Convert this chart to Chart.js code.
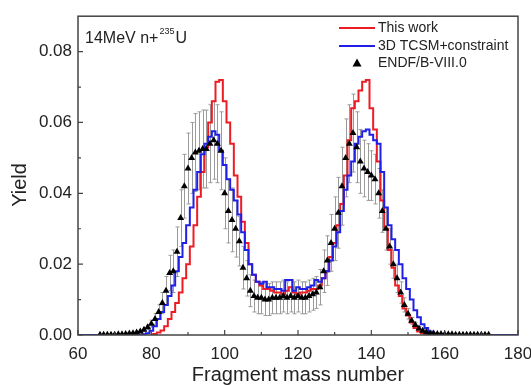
<!DOCTYPE html>
<html>
<head>
<meta charset="utf-8">
<script src="https://cdn.jsdelivr.net/npm/chart.js@4.4.0/dist/chart.umd.min.js"></script>
<style>
  html, body { margin: 0; padding: 0; background: #fff; }
</style>
</head>
<body>
<canvas id="yieldChart" width="531" height="385"></canvas>
<script>
// mass numbers 60..180, every series lines up with this list (null = no value)
const massNumbers = [
  60, 61, 62, 63, 64, 65, 66, 67, 68, 69,
  70, 71, 72, 73, 74, 75, 76, 77, 78, 79,
  80, 81, 82, 83, 84, 85, 86, 87, 88, 89,
  90, 91, 92, 93, 94, 95, 96, 97, 98, 99,
  100, 101, 102, 103, 104, 105, 106, 107, 108, 109,
  110, 111, 112, 113, 114, 115, 116, 117, 118, 119,
  120, 121, 122, 123, 124, 125, 126, 127, 128, 129,
  130, 131, 132, 133, 134, 135, 136, 137, 138, 139,
  140, 141, 142, 143, 144, 145, 146, 147, 148, 149,
  150, 151, 152, 153, 154, 155, 156, 157, 158, 159,
  160, 161, 162, 163, 164, 165, 166, 167, 168, 169,
  170, 171, 172, 173, 174, 175, 176, 177, 178, 179,
  180
];

// "This work" (red)
const thisWork = [
  null, null, null, null, null, null, null, null, null, null,
  null, null, null, null, null, null, null, null, null, null,
  0, 0.0003, 0.0007, 0.0013, 0.0025, 0.0045, 0.0065, 0.009, 0.012, 0.016,
  0.020, 0.025, 0.031, 0.039, 0.046, 0.053, 0.060, 0.066, 0.0715, 0.072,
  0.066, 0.060, 0.054, 0.045, 0.039, 0.032, 0.026, 0.020, 0.017, 0.015,
  0.014, 0.013, 0.013, 0.0125, 0.012, 0.012, 0.0115, 0.0125, 0.0135, 0.012,
  0.0115, 0.012, 0.012, 0.0125, 0.013, 0.013, 0.014, 0.016, 0.018, 0.022,
  0.026, 0.031, 0.037, 0.045, 0.055, 0.064, 0.066, 0.069, 0.0715, 0.072,
  0.064, 0.058, 0.049, 0.038, 0.030, 0.024, 0.019, 0.014, 0.011, 0.0075,
  0.0055, 0.0035, 0.002, 0.001, 0.0005, 0.0002, 0, null, null, null,
  null, null, null, null, null, null, null, null, null, null,
  null, null, null, null, null, null, null, null, null, null,
  null
];

// "3D TCSM+constraint" (blue)
const tcsm = [
  0, 0, 0, 0, 0, 0, 0, 0, 0, 0,
  0, 0, 0, 0, 0, 0, 0, 0, 0.0002, 0.0005,
  0.0012, 0.0025, 0.0045, 0.0065, 0.0085, 0.011, 0.014, 0.018, 0.022, 0.026,
  0.031, 0.036, 0.041, 0.046, 0.051, 0.054, 0.056, 0.0575, 0.0565, 0.052,
  0.048, 0.044, 0.041, 0.038, 0.034, 0.029, 0.024, 0.020, 0.017, 0.015,
  0.0145, 0.015, 0.0135, 0.0135, 0.013, 0.013, 0.0125, 0.0155, 0.0155, 0.0125,
  0.0135, 0.013, 0.013, 0.0135, 0.014, 0.0155, 0.015, 0.016, 0.018, 0.021,
  0.025, 0.029, 0.035, 0.041, 0.045, 0.049, 0.054, 0.056, 0.0575, 0.058,
  0.0565, 0.055, 0.054, 0.046, 0.036, 0.031, 0.027, 0.024, 0.020, 0.016,
  0.013, 0.010, 0.007, 0.005, 0.003, 0.002, 0.001, 0, 0, 0,
  0, 0, 0, 0, 0, 0, 0, 0, 0, 0,
  0, 0, 0, 0, 0, 0, 0, 0, 0, 0,
  0
];

// ENDF/B-VIII.0 (triangles) and its uncertainties
const endf = [
  null, null, null, null, null, null, 0.0001, 0.0001, 0.0001, 0.0001,
  0.0001, 0.0002, 0.0002, 0.0003, 0.0004, 0.0005, 0.0007, 0.001, 0.0015, 0.0022,
  0.0032, 0.0045, 0.0065, 0.009, 0.0125, 0.0175, 0.018, 0.0235, 0.033, 0.042,
  0.047, 0.050, 0.0515, 0.052, 0.0525, 0.0525, 0.054, 0.055, 0.054, 0.052,
  0.040, 0.035, 0.0325, 0.030, 0.0265, 0.019, 0.016, 0.0125, 0.011, 0.0105,
  0.0105, 0.010, 0.010, 0.0105, 0.0105, 0.0105, 0.011, 0.0105, 0.011, 0.0105,
  0.011, 0.0105, 0.0105, 0.011, 0.0115, 0.012, 0.0135, 0.018, 0.021, 0.026,
  0.030, 0.0345, 0.042, 0.050, 0.054, 0.057, 0.053, 0.049, 0.047, 0.046,
  0.045, 0.044, 0.040, 0.035, 0.030, 0.025, 0.020, 0.016, 0.012, 0.0085,
  0.006, 0.004, 0.0028, 0.0018, 0.0012, 0.0008, 0.0005, 0.0004, 0.0003, 0.0003,
  0.0002, 0.0002, 0.0002, 0.0001, 0.0001, 0.0001, 0.0001, 0.0001, 0.0001, 0.0001,
  0.0001, 0.0001, 0.0001, null, null, null, null, null, null, null,
  null
];
const endfErr = [
  null, null, null, null, null, null, 0.0001, 0.0001, 0.0001, 0.0001,
  0.0001, 0.0001, 0.0001, 0.0001, 0.0002, 0.0002, 0.0003, 0.0003, 0.0004, 0.0006,
  0.001, 0.0015, 0.002, 0.003, 0.004, 0.005, 0.006, 0.007, 0.008, 0.009,
  0.010, 0.010, 0.011, 0.011, 0.011, 0.011, 0.011, 0.011, 0.011, 0.011,
  0.010, 0.009, 0.009, 0.008, 0.007, 0.006, 0.005, 0.0045, 0.0045, 0.0045,
  0.0045, 0.0045, 0.0045, 0.0045, 0.0045, 0.0045, 0.0045, 0.0045, 0.0045, 0.0045,
  0.0045, 0.0045, 0.0045, 0.0045, 0.0045, 0.0045, 0.005, 0.006, 0.007, 0.008,
  0.009, 0.010, 0.011, 0.011, 0.011, 0.011, 0.010, 0.009, 0.008, 0.008,
  0.007, 0.007, 0.007, 0.006, 0.006, 0.005, 0.004, 0.004, 0.003, 0.002,
  0.0015, 0.001, 0.0008, 0.0006, 0.0004, 0.0003, 0.0002, 0.0002, 0.0001, 0.0001,
  0.0001, 0.0001, 0.0001, 0.0001, 0.0001, 0.0001, 0.0001, 0.0001, 0.0001, 0.0001,
  0.0001, 0.0001, 0.0001, null, null, null, null, null, null, null,
  null
];

const xTicks = [60, 80, 100, 120, 140, 160, 180];
const xMinorTicks = [70, 90, 110, 130, 150, 170];
const yTicks = [0, 0.02, 0.04, 0.06, 0.08];
const yMinorTicks = [0.01, 0.03, 0.05, 0.07];
const seriesNames = ['This work', '3D TCSM+constraint', 'ENDF/B-VIII.0'];

const FONT = 'Arial, "Liberation Sans", Helvetica, sans-serif';
const RED = '#ec1c24';
const BLUE = '#1f1fe8';

function toPoints(values) {
  return massNumbers
    .map((a, i) => ({ x: a, y: values[i] }))
    .filter(p => p.y !== null);
}

const extras = {
  id: 'extras',
  beforeDatasetsDraw(chart) {
    // grey error bars under the curves
    const { ctx, chartArea, scales: { x, y } } = chart;
    ctx.save();
    ctx.beginPath();
    ctx.rect(chartArea.left, chartArea.top, chartArea.right - chartArea.left, chartArea.bottom - chartArea.top);
    ctx.clip();
    ctx.strokeStyle = '#9a9a9a';
    ctx.lineWidth = 1;
    ctx.beginPath();
    massNumbers.forEach((a, i) => {
      if (endf[i] === null) return;
      const px = Math.round(x.getPixelForValue(a)) + 0.5;
      const top = y.getPixelForValue(endf[i] + endfErr[i]);
      const bot = y.getPixelForValue(endf[i] - endfErr[i]);
      ctx.moveTo(px, top); ctx.lineTo(px, bot);
      ctx.moveTo(px - 2, top); ctx.lineTo(px + 2, top);
      ctx.moveTo(px - 2, bot); ctx.lineTo(px + 2, bot);
    });
    ctx.stroke();
    ctx.restore();
  },
  afterDraw(chart) {
    const { ctx, chartArea: a, scales: { x, y } } = chart;
    ctx.save();
    // frame
    ctx.strokeStyle = '#444';
    ctx.lineWidth = 1.5;
    ctx.strokeRect(a.left, a.top, a.right - a.left, a.bottom - a.top);
    // inward ticks
    ctx.lineWidth = 1.2;
    ctx.beginPath();
    xTicks.forEach(v => { const p = x.getPixelForValue(v); ctx.moveTo(p, a.bottom); ctx.lineTo(p, a.bottom - 5); });
    xMinorTicks.forEach(v => { const p = x.getPixelForValue(v); ctx.moveTo(p, a.bottom); ctx.lineTo(p, a.bottom - 3); });
    yTicks.forEach(v => { const p = y.getPixelForValue(v); ctx.moveTo(a.left, p); ctx.lineTo(a.left + 5, p); });
    yMinorTicks.forEach(v => { const p = y.getPixelForValue(v); ctx.moveTo(a.left, p); ctx.lineTo(a.left + 3, p); });
    ctx.stroke();

    // y axis title, sits a bit below the middle like the original
    ctx.fillStyle = '#222';
    ctx.font = '20px ' + FONT;
    ctx.textAlign = 'center';
    ctx.textBaseline = 'middle';
    ctx.translate(20, 185);
    ctx.rotate(-Math.PI / 2);
    ctx.fillText('Yield', 0, 0);
    ctx.setTransform(1, 0, 0, 1, 0, 0);
    ctx.textAlign = 'left';

    // legend
    const lx = 339, tx = 378, rows = [28, 46, 63];
    ctx.lineWidth = 2.2;
    ctx.strokeStyle = RED;
    ctx.beginPath(); ctx.moveTo(lx, rows[0]); ctx.lineTo(lx + 36, rows[0]); ctx.stroke();
    ctx.strokeStyle = BLUE;
    ctx.beginPath(); ctx.moveTo(lx, rows[1]); ctx.lineTo(lx + 36, rows[1]); ctx.stroke();
    ctx.fillStyle = '#000';
    ctx.beginPath();
    ctx.moveTo(lx + 18, rows[2] - 4.5);
    ctx.lineTo(lx + 22.5, rows[2] + 3.5);
    ctx.lineTo(lx + 13.5, rows[2] + 3.5);
    ctx.closePath(); ctx.fill();
    ctx.fillStyle = '#222';
    ctx.font = '14px ' + FONT;
    seriesNames.forEach((s, i) => ctx.fillText(s, tx, rows[i]));

    // reaction label
    ctx.textBaseline = 'alphabetic';
    ctx.font = '16px ' + FONT;
    ctx.fillText('14MeV n+', 85, 43);
    const w1 = ctx.measureText('14MeV n+').width;
    ctx.font = '9px ' + FONT;
    ctx.fillText('235', 85 + w1 + 1, 34);
    const w2 = ctx.measureText('235').width;
    ctx.font = '16px ' + FONT;
    ctx.fillText('U', 85 + w1 + w2 + 2, 43);
    ctx.restore();
  }
};

new Chart(document.getElementById('yieldChart'), {
  type: 'line',
  data: {
    datasets: [
      {
        label: seriesNames[2],
        data: toPoints(endf),
        showLine: false,
        pointStyle: 'triangle',
        pointRadius: 4,
        backgroundColor: '#000',
        borderColor: '#000',
        borderWidth: 0,
        order: 0
      },
      {
        label: seriesNames[1],
        data: toPoints(tcsm),
        borderColor: BLUE,
        borderWidth: 2,
        stepped: 'middle',
        pointRadius: 0,
        fill: false,
        order: 1
      },
      {
        label: seriesNames[0],
        data: toPoints(thisWork),
        borderColor: RED,
        borderWidth: 2,
        stepped: 'middle',
        pointRadius: 0,
        fill: false,
        order: 2
      }
    ]
  },
  options: {
    responsive: false,
    animation: false,
    devicePixelRatio: 1,
    layout: { padding: { top: 10, right: 13, left: 0, bottom: 0 } },
    plugins: {
      legend: { display: false },
      tooltip: { enabled: false }
    },
    scales: {
      x: {
        type: 'linear',
        min: 60,
        max: 180,
        afterBuildTicks: s => { s.ticks = xTicks.map(v => ({ value: v })); },
        afterFit: s => { s.height = 50; s.paddingLeft = 0; s.paddingRight = 0; },
        grid: { display: false, drawTicks: false },
        border: { display: false },
        ticks: { color: '#222', font: { family: FONT, size: 17 }, padding: 9, maxRotation: 0, autoSkip: false },
        title: {
          display: true,
          text: 'Fragment mass number',
          color: '#222',
          font: { family: FONT, size: 20, lineHeight: 1 },
          padding: { top: 0, bottom: 0 }
        }
      },
      y: {
        min: 0,
        max: 0.09,
        afterBuildTicks: s => { s.ticks = yTicks.map(v => ({ value: v })); },
        afterFit: s => { s.width = 78; },
        grid: { display: false, drawTicks: false },
        border: { display: false },
        ticks: { color: '#222', font: { family: FONT, size: 17 }, padding: 6, callback: v => v.toFixed(2) },
        title: { display: false }
      }
    }
  },
  plugins: [extras]
});
</script>
</body>
</html>
